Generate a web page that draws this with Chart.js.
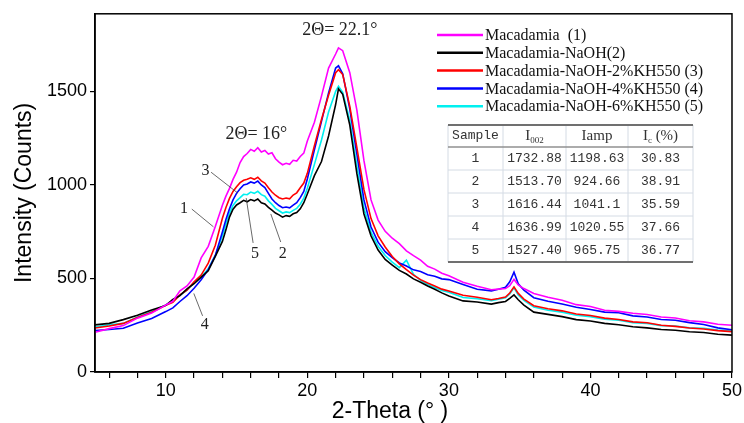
<!DOCTYPE html>
<html>
<head>
<meta charset="utf-8">
<script src="https://cdn.jsdelivr.net/npm/chart.js@4"></script>
<style>
  html, body { margin: 0; padding: 0; background: #fff; }
</style>
</head>
<body>
<canvas id="xrdChart" width="744" height="423"></canvas>
<script>
// 2-theta positions (degrees) shared by every pattern
const twoTheta = [
  5, 6, 7, 8, 9, 10, 10.5, 11, 11.5, 12, 12.5, 13, 13.5, 14,
  14.25, 14.5, 14.75, 15, 15.25, 15.5, 15.75, 16, 16.25, 16.5, 16.75, 17, 17.25, 17.5,
  17.75, 18, 18.25, 18.5, 18.75, 19, 19.25, 19.5, 19.75, 20, 20.5, 21, 21.5, 22,
  22.2, 22.5, 23, 23.5, 24, 24.5, 25, 25.5, 26, 26.5, 27, 27.5, 28, 28.5,
  29, 29.5, 30, 31, 32, 33, 33.5, 34, 34.3, 34.6, 34.9, 35.3, 36, 37,
  38, 39, 40, 41, 42, 43, 44, 45, 46, 47, 48, 49, 50
]

// intensities (counts)
const macadamia = [
  212, 232, 248, 288, 315, 358, 378, 434, 460, 508, 610, 672, 778, 892,
  940, 982, 1030, 1068, 1120, 1152, 1168, 1190, 1180, 1198.63, 1176, 1184, 1165, 1172,
  1140, 1122, 1108, 1116, 1110, 1132, 1128, 1152, 1170, 1235, 1335, 1475, 1625, 1700,
  1732.88, 1718, 1600, 1400, 1130, 920, 812, 752, 715, 686, 648, 622, 598, 565,
  550, 528, 514, 480, 458, 440, 443, 446, 462, 495, 465, 446, 420, 400,
  384, 360, 350, 330, 324, 314, 307, 294, 289, 274, 268, 255, 250
]
const naoh = [
  252, 260, 280, 303, 332, 356, 388, 408, 444, 472, 507, 541, 618, 698,
  760, 828, 870, 893, 905, 918, 910, 922, 915, 924.66, 905, 898, 880, 866,
  850, 840, 828, 836, 832, 846, 852, 872, 905, 952, 1050, 1125, 1262, 1430,
  1513.70, 1485, 1320, 1060, 845, 728, 652, 602, 572, 543, 524, 498, 480, 460,
  442, 423, 406, 380, 374, 363, 371, 377, 394, 412, 386, 358, 320, 308,
  296, 280, 273, 260, 253, 242, 236, 227, 223, 215, 211, 202, 197
]
const kh2 = [
  235, 246, 260, 292, 320, 357, 373, 412, 438, 482, 518, 582, 678, 822,
  880, 928, 965, 990, 1012, 1025, 1030, 1038, 1030, 1041.1, 1022, 1010, 985, 962,
  945, 932, 925, 930, 926, 946, 958, 985, 1010, 1062, 1210, 1350, 1480, 1600,
  1616.44, 1590, 1420, 1200, 975, 820, 728, 668, 617, 578, 547, 518, 494, 476,
  460, 443, 433, 410, 400, 386, 393, 401, 422, 455, 420, 390, 354, 338,
  327, 310, 302, 288, 281, 268, 263, 250, 244, 235, 230, 221, 216
]
const kh4 = [
  222, 227, 234, 262, 286, 323, 343, 377, 408, 448, 493, 547, 623, 748,
  815, 872, 920, 955, 980, 1000, 1005, 1016, 1010, 1020.55, 1000, 986, 955, 925,
  905, 890, 878, 882, 878, 892, 905, 932, 965, 1032, 1188, 1340, 1492, 1625,
  1636.99, 1595, 1405, 1165, 920, 775, 694, 643, 612, 583, 567, 546, 537, 520,
  512, 498, 494, 468, 442, 434, 442, 453, 482, 534, 472, 438, 397, 378,
  364, 346, 334, 320, 317, 300, 294, 281, 277, 264, 254, 236, 226
]
const kh6 = [
  240, 252, 260, 294, 323, 359, 380, 410, 438, 476, 506, 552, 623, 728,
  790, 848, 890, 915, 932, 950, 948, 962, 955, 965.75, 948, 940, 915, 896,
  875, 862, 850, 856, 852, 864, 875, 897, 930, 982, 1110, 1240, 1390, 1500,
  1527.40, 1495, 1345, 1100, 875, 748, 672, 623, 587, 558, 598, 522, 490, 468,
  452, 436, 427, 398, 392, 381, 389, 397, 417, 450, 412, 383, 347, 330,
  320, 303, 296, 282, 277, 264, 260, 248, 246, 236, 234, 224, 220
]

const seriesNames = [
  'Macadamia  (1)',
  'Macadamia-NaOH(2)',
  'Macadamia-NaOH-2%KH550 (3)',
  'Macadamia-NaOH-4%KH550 (4)',
  'Macadamia-NaOH-6%KH550 (5)'
]
const seriesColors = ['#ff00ff', '#000000', '#ff0000', '#0000ff', '#00f0f0']

const xTicks = [10, 20, 30, 40, 50]
const yTicks = [0, 500, 1000, 1500]

// crystallinity table
const tableHead = ['Sample', 'I002', 'Iamp', 'Ic (%)']
const sampleNo = ['1', '2', '3', '4', '5']
const i002 = ['1732.88', '1513.70', '1616.44', '1636.99', '1527.40']
const iamp = ['1198.63', '924.66', '1041.1', '1020.55', '965.75']
const crystallinity = ['30.83', '38.91', '35.59', '37.66', '36.77']

// peak captions and curve numbers with leader lines (data units)
const peakNotes = [
  { text: '2Θ= 22.1°', x: 22.3, y: 1828 },
  { text: '2Θ= 16°', x: 16.4, y: 1270 }
]
const curveTags = [
  { text: '1', x: 11.28, y: 871, from: [11.84, 871], to: [13.37, 776] },
  { text: '3', x: 12.8, y: 1073, from: [13.2, 1068], to: [15.1, 956] },
  { text: '5', x: 16.3, y: 632, from: [16.17, 690], to: [15.68, 930] },
  { text: '2', x: 18.26, y: 632, from: [18.12, 695], to: [17.42, 845] },
  { text: '4', x: 12.75, y: 250, from: [12.6, 300], to: [11.98, 420] }
]

const patterns = [macadamia, naoh, kh2, kh4, kh6]
const datasets = patterns.map((values, i) => ({
  label: seriesNames[i],
  data: values.map((v, j) => ({ x: twoTheta[j], y: v })),
  borderColor: seriesColors[i],
  borderWidth: 1.6,
  pointRadius: 0,
  tension: 0,
  fill: false
}))

const overlay = {
  id: 'overlay',
  afterDraw(chart) {
    const { ctx, chartArea: area, scales } = chart
    const px = v => scales.x.getPixelForValue(v)
    const py = v => scales.y.getPixelForValue(v)
    ctx.save()

    // frame
    ctx.strokeStyle = '#000'
    ctx.lineWidth = 1.5
    ctx.strokeRect(area.left, area.top, area.right - area.left, area.bottom - area.top)

    // x axis title
    ctx.fillStyle = '#000'
    ctx.font = '23px "Liberation Sans", Arial, sans-serif'
    ctx.textAlign = 'center'
    ctx.textBaseline = 'middle'
    ctx.fillText('2-Theta (° )', area.left + 295, 412)

    // peak captions
    ctx.fillStyle = '#222'
    ctx.font = '18px "Liberation Serif", "Times New Roman", serif'
    peakNotes.forEach(n => ctx.fillText(n.text, px(n.x), py(n.y)))

    // curve numbers
    ctx.strokeStyle = '#444'
    ctx.lineWidth = 0.8
    ctx.font = '16px "Liberation Serif", "Times New Roman", serif'
    curveTags.forEach(t => {
      ctx.beginPath()
      ctx.moveTo(px(t.from[0]), py(t.from[1]))
      ctx.lineTo(px(t.to[0]), py(t.to[1]))
      ctx.stroke()
      ctx.fillText(t.text, px(t.x), py(t.y))
    })

    // legend
    ctx.textAlign = 'left'
    ctx.font = '16px "Liberation Serif", "Times New Roman", serif'
    chart.data.datasets.forEach((ds, i) => {
      const y = 35 + i * 17.8
      ctx.strokeStyle = ds.borderColor
      ctx.lineWidth = 2.5
      ctx.beginPath()
      ctx.moveTo(437, y)
      ctx.lineTo(483, y)
      ctx.stroke()
      ctx.fillStyle = '#111'
      ctx.fillText(ds.label, 485, y + 1)
    })

    // table
    const colX = [448, 503, 566, 628, 693]
    const rowY = [125, 147, 170, 193, 216, 239, 262]
    ctx.strokeStyle = '#d4dbe4'
    ctx.lineWidth = 1
    colX.forEach(x => {
      ctx.beginPath(); ctx.moveTo(x, rowY[0]); ctx.lineTo(x, rowY[6]); ctx.stroke()
    })
    rowY.slice(2, 6).forEach(y => {
      ctx.beginPath(); ctx.moveTo(colX[0], y); ctx.lineTo(colX[4], y); ctx.stroke()
    })
    ctx.strokeStyle = '#707070'
    ctx.lineWidth = 2
    ;[rowY[0], rowY[6]].forEach(y => {
      ctx.beginPath(); ctx.moveTo(colX[0], y); ctx.lineTo(colX[4], y); ctx.stroke()
    })
    ctx.strokeStyle = '#909090'
    ctx.lineWidth = 1.5
    ctx.beginPath(); ctx.moveTo(colX[0], rowY[1]); ctx.lineTo(colX[4], rowY[1]); ctx.stroke()

    const mid = i => (colX[i] + colX[i + 1]) / 2
    const rowMid = r => (rowY[r] + rowY[r + 1]) / 2
    ctx.fillStyle = '#333'
    ctx.textAlign = 'center'
    ctx.textBaseline = 'middle'

    // header: Sample, I with subscript 002, Iamp, I with subscript c
    ctx.font = '13px "Liberation Mono", monospace'
    ctx.fillText(tableHead[0], mid(0), rowMid(0))
    const serif = '15px "Liberation Serif", serif'
    const sub = '9px "Liberation Serif", serif'
    const subscripted = (col, main, low, tail) => {
      ctx.font = serif
      const w1 = ctx.measureText(main).width
      const w3 = tail ? ctx.measureText(tail).width : 0
      ctx.font = sub
      const w2 = ctx.measureText(low).width
      const x = mid(col) - (w1 + w2 + w3) / 2
      const y = rowMid(0)
      ctx.textAlign = 'left'
      ctx.font = serif
      ctx.fillText(main, x, y)
      ctx.font = sub
      ctx.fillText(low, x + w1, y + 5)
      if (tail) { ctx.font = serif; ctx.fillText(tail, x + w1 + w2, y) }
      ctx.textAlign = 'center'
    }
    subscripted(1, 'I', '002')
    ctx.font = serif
    ctx.fillText(tableHead[2], mid(2), rowMid(0))
    subscripted(3, 'I', 'c', ' (%)')

    ctx.font = '13px "Liberation Mono", monospace'
    sampleNo.forEach((s, r) => {
      const y = rowMid(r + 1)
      ctx.fillText(s, mid(0), y)
      ctx.fillText(i002[r], mid(1), y)
      ctx.fillText(iamp[r], mid(2), y)
      ctx.fillText(crystallinity[r], mid(3), y)
    })
    ctx.restore()
  }
}

new Chart(document.getElementById('xrdChart'), {
  type: 'line',
  data: { datasets },
  options: {
    responsive: false,
    animation: false,
    layout: { padding: { top: 12, right: 4, left: 0, bottom: 0 } },
    plugins: { legend: { display: false }, tooltip: { enabled: false } },
    scales: {
      x: {
        type: 'linear',
        min: 5,
        max: 50,
        afterFit: s => { s.height = 51 },
        afterBuildTicks: s => {
          const t = []
          for (let v = 6; v <= 50; v += 2) t.push({ value: v })
          s.ticks = t
        },
        ticks: {
          autoSkip: false,
          maxRotation: 0,
          padding: 2,
          color: '#000',
          font: { family: '"Liberation Sans", Arial, sans-serif', size: 18 },
          callback: v => (xTicks.includes(v) ? String(v) : '')
        },
        grid: { drawOnChartArea: false, drawTicks: true, tickLength: 6, color: '#000', lineWidth: 1.2 },
        border: { color: '#000', width: 1.5 }
      },
      y: {
        min: 0,
        max: 1915,
        afterFit: s => { s.width = 95 },
        afterBuildTicks: s => { s.ticks = yTicks.map(v => ({ value: v })) },
        ticks: {
          padding: 3,
          color: '#000',
          font: { family: '"Liberation Sans", Arial, sans-serif', size: 18 },
          callback: v => String(v)
        },
        grid: { drawOnChartArea: false, drawTicks: true, tickLength: 5, color: '#000', lineWidth: 1.2 },
        border: { color: '#000', width: 1.5 },
        title: {
          display: true,
          text: 'Intensity (Counts)',
          color: '#000',
          padding: { top: 11, bottom: 0 },
          font: { family: '"Liberation Sans", Arial, sans-serif', size: 23, weight: 'normal' }
        }
      }
    }
  },
  plugins: [overlay]
})
</script>
</body>
</html>
